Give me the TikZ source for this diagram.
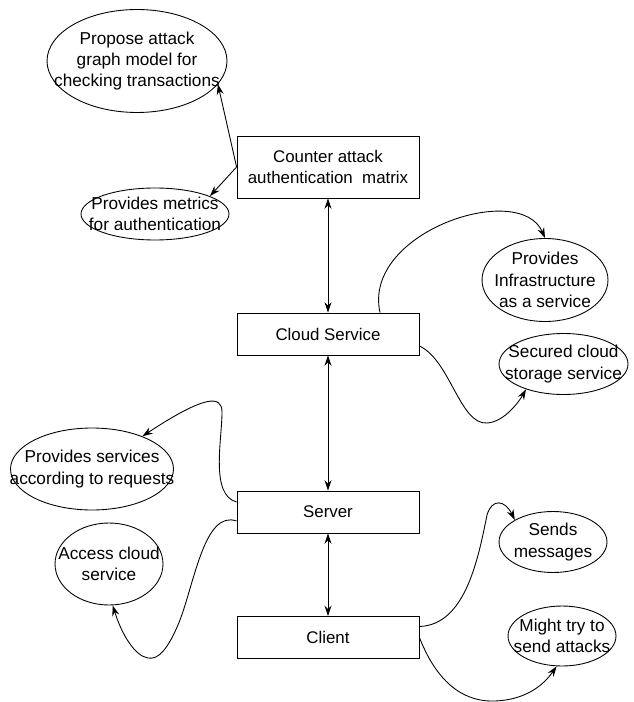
\documentclass[tikz,border=0pt]{standalone}
\usepackage{fontspec}
\setmainfont{Liberation Sans}
\usetikzlibrary{arrows.meta,%
                shapes,%
                calc}

\begin{document}
\begin{tikzpicture}[x=0.02cm, y=-0.02cm,
font=\fontsize{9.6}{12.3}\selectfont,
%
operation/.style={rectangle, draw=black, minimum width=3.64cm,
minimum height=0.84cm, align=center, inner sep=1pt},
%
result/.style={draw=black, ellipse, inner sep=0pt},
%
every label/.style={align=center, inner sep=0pt, font=\fontsize{9.8}{12.2}\selectfont},
%
link/.style={-{Stealth[length=6pt, width=4pt, inset=2pt]}},
%
twoway/.style={{Stealth[length=6pt, width=4pt, inset=2pt]}-{Stealth[length=6pt, width=4pt, inset=2pt]}}]

\tikzset{every path/.style={line width=.5pt}}

\useasboundingbox (0,0) rectangle (634,702);

% main chain
\node [operation, minimum height=1.24cm] (counter) at (328,167) {Counter attack\\authentication\ \ matrix};
\node [operation] (cloud) at (328,334) {Cloud Service};
\node [operation] (server) at (328,512) {Server};
\node [operation] (client) at (328,637.5) {Client};

%%%%%%%%%%%%%%%%%%%%%%%%%%%%%%%%%%
\node [result, minimum width=3.6cm, minimum height=2.06cm,
  label=center:{Propose attack\\graph model for\\checking transactions}] (attackgraph) at (137,61) {};
\node [result, minimum width=2.96cm, minimum height=1.04cm,
  label=center:{Provides metrics\\for authentication}] (metrics) at (155,214) {};
%%%%%%%%%%%%%%%%%%%%%%%%%%%%%%%%%%
\node [result, minimum width=2.52cm, minimum height=1.66cm,
  label=center:{Provides\\Infrastructure\\as a service}] (infra) at (545,280) {};
\node [result, minimum width=2.58cm, minimum height=1.22cm,
  label=center:{Secured cloud\\storage service}] (secured) at (563.5,364) {};
%%%%%%%%%%%%%%%%%%%%%%%%%%%%%%%%%%
\node [result, minimum width=3.26cm, minimum height=1.64cm,
  label=center:{Provides services\\according to requests}] (services) at (92,469) {};
\node [result, minimum width=2.16cm, minimum height=1.64cm,
  label=center:{Access cloud\\service}] (access) at (109,564) {};
%%%%%%%%%%%%%%%%%%%%%%%%%%%%%%%%%%
\node [result, minimum width=2.16cm, minimum height=1.22cm,
  label=center:{Sends\\messages}] (sends) at (553,542) {};
\node [result, minimum width=2.16cm, minimum height=1.2cm,
  label=center:{Might try to\\send attacks}] (attacks) at (562,636) {};

\begin{scope}
  \draw[link] (counter.west) -- (attackgraph.344);
  \draw[link] (counter.west) -- (metrics.18);
  %%%%%%%%%%%%%%%%%%%%%%%%%%%%%%%%%%%%%
  \draw[twoway] (counter.south) -- (cloud.north);
  \draw[twoway] (cloud.south) -- (server.north);
  \draw[twoway] (server.south) -- (client.north);
  %%%%%%%%%%%%%%%%%%%%%%%%%%%%%%%%%%%%%
  \draw[link] ($(cloud.north)+(52,0)$) .. controls (362,232) and (520,180) .. (infra.north);
  \draw[link] ($(cloud.east)+(0,12)$) .. controls (450,360) and (460,425) .. (487,423)
    .. controls (505,422) and (520,400) .. (secured.214);
  %%%%%%%%%%%%%%%%%%%%%%%%%%%%%%%%%%%%%
  \draw[link] ($(server.west)+(0,-10)$) .. controls (210,495) and (222,440) .. (222,412)
    .. controls (222,395) and (205,395) .. (services.33);
  \draw[link] ($(server.west)+(0,9)$) .. controls (205,510) and (195,580) .. (180,620)
    .. controls (168,650) and (158,660) .. (148,658)
    .. controls (135,656) and (122,635) .. (access.275);
  %%%%%%%%%%%%%%%%%%%%%%%%%%%%%%%%%%%%%
  \draw[link] ($(client.east)+(0,-11)$) .. controls (465,625) and (478,560) .. (487,515)
    .. controls (492,498) and (505,500) .. (sends.150);
  \draw[link] (client.east) .. controls (440,690) and (470,702) .. (495,701)
    .. controls (520,700) and (540,690) .. (attacks.260);
\end{scope}

\end{tikzpicture}
\end{document}
